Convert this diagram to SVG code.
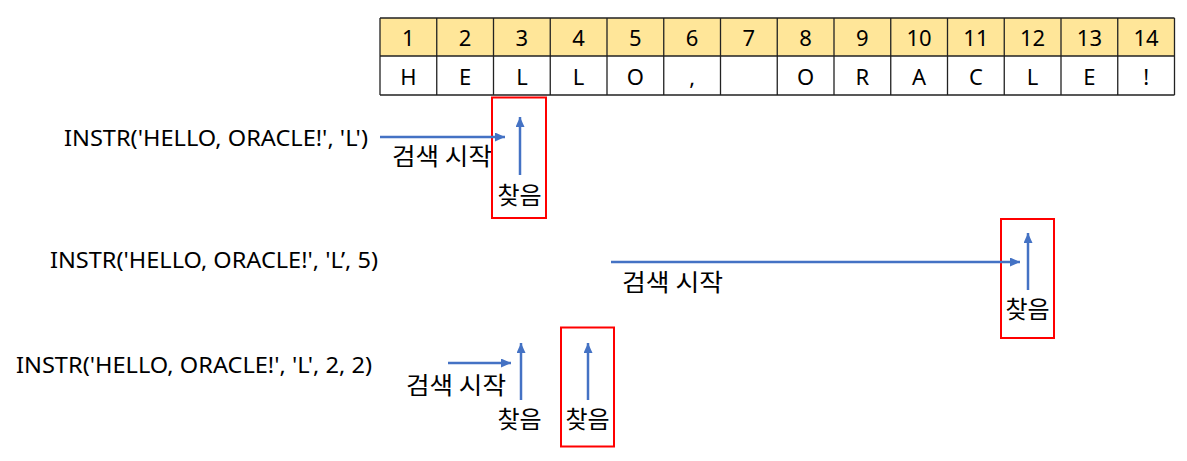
<svg xmlns="http://www.w3.org/2000/svg" width="1187" height="461" viewBox="0 0 1187 461">
<style>
.t{font-family:"Noto Sans","Noto Sans CJK KR","Liberation Sans",sans-serif;font-size:22px;fill:#000}
.k{font-family:"Noto Sans CJK KR","Noto Sans",sans-serif;font-size:24px;fill:#000}
.c{text-anchor:middle}
.grid{stroke:#222;stroke-width:1.3;fill:none}
.arr{stroke:#4472C4;stroke-width:2.5;fill:none;marker-end:url(#ah)}
.box{fill:none;stroke:#FF0000;stroke-width:2}
</style>
<defs>
<marker id="ah" markerUnits="userSpaceOnUse" markerWidth="11" markerHeight="9" refX="10" refY="4.5" orient="auto">
<path d="M0,0 L10,4.5 L0,9 z" fill="#4472C4"/>
</marker>
</defs>
<rect width="1187" height="461" fill="#fff"/>
<g id="table">
<rect x="380" y="18" width="794.5" height="38" fill="#FFE699"/>
<rect x="380" y="56" width="794.5" height="39" fill="#fff"/>
<path class="grid" d="M380,18H1174.5M380,56H1174.5M380,95H1174.5M380,18V95M436.75,18V95M493.5,18V95M550.25,18V95M607,18V95M663.75,18V95M720.5,18V95M777.25,18V95M834,18V95M890.75,18V95M947.5,18V95M1004.25,18V95M1061,18V95M1117.75,18V95M1174.5,18V95"/>
<g class="t c">
<text x="408.4" y="46">1</text><text x="465.1" y="46">2</text><text x="521.9" y="46">3</text><text x="578.6" y="46">4</text><text x="635.4" y="46">5</text><text x="692.1" y="46">6</text><text x="748.9" y="46">7</text><text x="805.6" y="46">8</text><text x="862.4" y="46">9</text><text x="919.1" y="46">10</text><text x="975.9" y="46">11</text><text x="1032.6" y="46">12</text><text x="1089.4" y="46">13</text><text x="1146.1" y="46">14</text>
<text x="408.4" y="85">H</text><text x="465.1" y="85">E</text><text x="521.9" y="85">L</text><text x="578.6" y="85">L</text><text x="635.4" y="85">O</text><text x="692.1" y="85">,</text><text x="805.6" y="85">O</text><text x="862.4" y="85">R</text><text x="919.1" y="85">A</text><text x="975.9" y="85">C</text><text x="1032.6" y="85">L</text><text x="1089.4" y="85">E</text><text x="1146.1" y="85">!</text>
</g>
</g>
<g id="ex1">
<text class="t" x="64" y="146" textLength="304" lengthAdjust="spacingAndGlyphs">INSTR('HELLO, ORACLE!', 'L')</text>
<text class="k" x="392" y="165" textLength="100" lengthAdjust="spacingAndGlyphs">검색 시작</text>
<rect class="box" x="492" y="97.5" width="54" height="120.5"/>
<text class="k c" x="519.5" y="204">찾음</text>
</g>
<g id="ex2">
<text class="t" x="50" y="268" textLength="328" lengthAdjust="spacingAndGlyphs">INSTR('HELLO, ORACLE!', 'L’, 5)</text>
<text class="k" x="622" y="291" textLength="101" lengthAdjust="spacingAndGlyphs">검색 시작</text>
<rect class="box" x="1001" y="219" width="53" height="119"/>
<text class="k c" x="1027.5" y="318">찾음</text>
</g>
<g id="ex3">
<text class="t" x="16" y="373" textLength="356" lengthAdjust="spacingAndGlyphs">INSTR('HELLO, ORACLE!', 'L', 2, 2)</text>
<text class="k" x="406" y="394" textLength="100" lengthAdjust="spacingAndGlyphs">검색 시작</text>
<text class="k c" x="519.5" y="428">찾음</text>
<rect class="box" x="561" y="327.5" width="53" height="119"/>
<text class="k c" x="587.5" y="428">찾음</text>
</g>
<g id="connectors">
<line class="arr" x1="380" y1="137" x2="505" y2="137"/>
<line class="arr" x1="520" y1="175" x2="520" y2="117"/>
<line class="arr" x1="611" y1="262" x2="1020" y2="262"/>
<line class="arr" x1="1028" y1="290" x2="1028" y2="233"/>
<line class="arr" x1="448" y1="363" x2="511" y2="363"/>
<line class="arr" x1="521" y1="400" x2="521" y2="343"/>
<line class="arr" x1="588" y1="400" x2="588" y2="343"/>
</g>
</svg>
